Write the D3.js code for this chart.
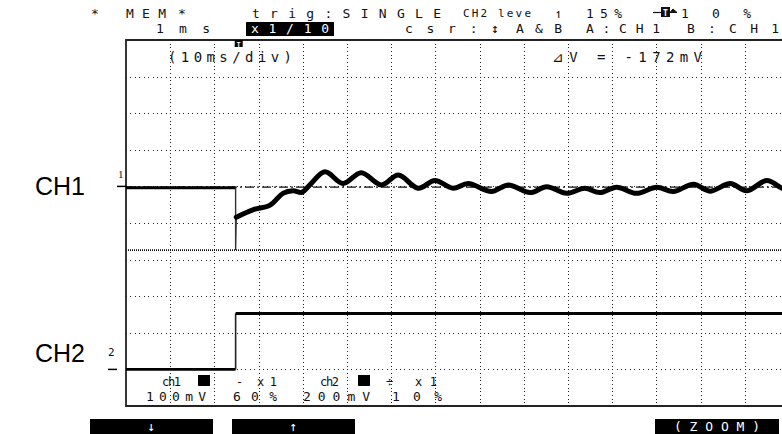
<!DOCTYPE html>
<html>
<head>
<meta charset="utf-8">
<script src="https://cdn.jsdelivr.net/npm/d3@7"></script>
<style>
  html, body { margin: 0; padding: 0; background: #fff; }
  svg { display: block; }
  .lcd { font-family: "DejaVu Sans Mono", "Liberation Mono", monospace; }
</style>
</head>
<body>
<svg id="scope" width="782" height="434"></svg>
<script>
// ---- acquisition settings ----
const timePerDivMs = 10;
const ch1mVPerDiv = 100;
const ch2mVPerDiv = 200;
const triggerMs = 25.5;
const stepMs = 24.8;

// ---- CH1 (100 mV/div) ----
const ch1PreTime = [0, stepMs];
const ch1PreMv   = [-4, -4];
// fast transient at the switching instant
const ch1DropTime = [stepMs, stepMs, 24.95];
const ch1DropMv   = [-4, -174, -84];
// recovery and ringing
const ch1PostTime = [24.95, 28.7, 32.6, 35.5, 37.8, 39.8, 41.6, 45.0, 49.1, 53.2, 57.8, 61.6,
                     66.1, 69.9, 74.0, 77.4, 82.7, 86.5, 91.4, 95.2, 99.7, 103.8, 107.2,
                     111.0, 115.5, 120.1, 123.8, 128.4, 132.1, 136.7, 140.4, 145.0, 148.4, 150];
const ch1PostMv   = [-84, -64, -51, -19, -12, -16, 4, 40, 8, 37, 4, 31,
                     -5, 16, -5, 8, -14, 4, -17, -1, -19, -5, -17,
                     -2, -19, -2, -14, 6, -13, 8, -12, 16, -5, -10];

// ---- CH2 (200 mV/div) ----
const ch2LowTime  = [0, stepMs];
const ch2LowMv    = [0, 0];
const ch2StepTime = [stepMs, stepMs];
const ch2StepMv   = [0, 306];
const ch2HighTime = [stepMs, 150];
const ch2HighMv   = [306, 306];

// ---- cursors (both on CH1) ----
const cursorAmV = -2;
const cursorBmV = -174;

// ---- grid ----
const gridTimes = d3.range(10, 150, 10);          // vertical divisions (ms)
const gridCh1Mv = d3.range(-500, 400, 100);       // horizontal divisions, CH1 units

const svg = d3.select("#scope");

// screen: 15 x 10 divisions, CH1 reference 4 div below top, CH2 reference 1 div above bottom
const x = d3.scaleLinear().domain([0, 150]).range([126, 126 + 15 * 44.2]);
const y1 = d3.scaleLinear().domain([-6 * ch1mVPerDiv, 4 * ch1mVPerDiv]).range([406, 40]);
const y2 = d3.scaleLinear().domain([-1 * ch2mVPerDiv, 9 * ch2mVPerDiv]).range([406, 40]);

const xLeft = x(0), xRight = 782;
const yTop = y1(400), yBot = y1(-600);

// dotted division grid
const grid = svg.append("g").attr("shape-rendering", "crispEdges");
grid.selectAll("line.v").data(gridTimes).join("line")
  .attr("x1", d => Math.round(x(d)) + 0.5).attr("x2", d => Math.round(x(d)) + 0.5)
  .attr("y1", yTop).attr("y2", yBot)
  .attr("stroke", "#222").attr("stroke-width", 1)
  .attr("stroke-dasharray", "1,2.66");
grid.selectAll("line.h").data(gridCh1Mv).join("line")
  .attr("x1", xLeft).attr("x2", xRight)
  .attr("y1", d => Math.round(y1(d)) + 0.5).attr("y2", d => Math.round(y1(d)) + 0.5)
  .attr("stroke", "#222").attr("stroke-width", 1)
  .attr("stroke-dasharray", "1,3.42");

// cursors
svg.append("line")
  .attr("x1", xLeft).attr("x2", xRight)
  .attr("y1", y1(cursorAmV)).attr("y2", y1(cursorAmV))
  .attr("stroke", "#111").attr("stroke-width", 1.2)
  .attr("stroke-dasharray", "9,3,2,3");
svg.append("line")
  .attr("x1", xLeft).attr("x2", xRight)
  .attr("y1", y1(cursorBmV)).attr("y2", y1(cursorBmV))
  .attr("stroke", "#111").attr("stroke-width", 1.6)
  .attr("stroke-dasharray", "1,1");

// frame
svg.append("path")
  .attr("d", `M${xRight},${yTop}H${xLeft}V${yBot}H${xRight}`)
  .attr("fill", "none").attr("stroke", "#222").attr("stroke-width", 1.8);

// traces
const lineOf = (ys, curve) => d3.line().x(d => x(d[0])).y(d => ys(d[1])).curve(curve || d3.curveLinear);
const zip = (a, b) => a.map((v, i) => [v, b[i]]);

svg.append("path").datum(zip(ch1PreTime, ch1PreMv))
  .attr("d", lineOf(y1)).attr("fill", "none").attr("stroke", "#000").attr("stroke-width", 3);
svg.append("path").datum(zip(ch1DropTime, ch1DropMv))
  .attr("d", lineOf(y1)).attr("fill", "none").attr("stroke", "#333").attr("stroke-width", 1.4);
svg.append("path").datum(zip(ch1PostTime, ch1PostMv))
  .attr("d", lineOf(y1, d3.curveCatmullRom.alpha(0.5)))
  .attr("fill", "none").attr("stroke", "#000").attr("stroke-width", 5)
  .attr("stroke-linejoin", "round").attr("stroke-linecap", "round");

svg.append("path").datum(zip(ch2LowTime, ch2LowMv))
  .attr("d", lineOf(y2)).attr("fill", "none").attr("stroke", "#000").attr("stroke-width", 2.6);
svg.append("path").datum(zip(ch2StepTime, ch2StepMv))
  .attr("d", lineOf(y2)).attr("fill", "none").attr("stroke", "#222").attr("stroke-width", 1.6);
svg.append("path").datum(zip(ch2HighTime, ch2HighMv))
  .attr("d", lineOf(y2)).attr("fill", "none").attr("stroke", "#000").attr("stroke-width", 3);

// reference markers at the left edge
svg.append("line").attr("x1", 117).attr("x2", xLeft).attr("y1", y1(0)).attr("y2", y1(0))
  .attr("stroke", "#000").attr("stroke-width", 1.5);
svg.append("text").attr("x", 118).attr("y", y1(0) - 8).text("1")
  .attr("font-family", "Liberation Serif, serif").attr("font-size", 11).attr("fill", "#111");
svg.append("line").attr("x1", 108).attr("x2", 117).attr("y1", y2(0)).attr("y2", y2(0))
  .attr("stroke", "#000").attr("stroke-width", 1.5);
svg.append("text").attr("x", 108).attr("y", y2(0) - 13).text("2")
  .attr("class", "lcd").attr("font-size", 11).attr("fill", "#111");

// trigger position marker
const tx = x(triggerMs);
svg.append("rect").attr("x", tx - 4).attr("y", 40).attr("width", 8).attr("height", 7).attr("fill", "#000");
svg.append("text").attr("x", tx).attr("y", 46.5).attr("text-anchor", "middle").text("T")
  .attr("class", "lcd").attr("font-size", 7).attr("font-weight", "bold").attr("fill", "#fff");

// channel names
svg.append("text").attr("x", 35).attr("y", y1(0) + 9).text("CH1")
  .attr("font-family", "Liberation Sans, Arial, sans-serif").attr("font-size", 25).attr("fill", "#000");
svg.append("text").attr("x", 35).attr("y", y2(0) - 7).text("CH2")
  .attr("font-family", "Liberation Sans, Arial, sans-serif").attr("font-size", 25).attr("fill", "#000");

// status text helper
function label(xp, yp, str, len, opts = {}) {
  const t = svg.append("text")
    .attr("x", xp).attr("y", yp).text(str)
    .attr("class", "lcd")
    .attr("font-size", opts.size || 13)
    .attr("fill", opts.fill || "#111");
  if (len) t.attr("textLength", len).attr("lengthAdjust", "spacing");
  return t;
}

// header line 1
label(91, 17.5, "*", 9);
label(126, 17.5, "MEM", 40);
label(178, 17.5, "*", 8);
label(252, 17.5, "trig:SINGLE", 189);
label(463, 17, "CH2 leve", 68, { size: 11 });
label(555, 17.5, "↿", 8);
label(586, 17.5, "15%", 36);
svg.append("line").attr("x1", 653).attr("x2", 661).attr("y1", 12.5).attr("y2", 12.5).attr("stroke", "#111").attr("stroke-width", 1.2);
svg.append("rect").attr("x", 661).attr("y", 7).attr("width", 9).attr("height", 10).attr("fill", "#111");
svg.append("text").attr("x", 665.5).attr("y", 15.5).attr("text-anchor", "middle").text("T")
  .attr("class", "lcd").attr("font-size", 8).attr("font-weight", "bold").attr("fill", "#fff");
svg.append("path").attr("d", "M670,12.5L677,12.5L673,9Z").attr("fill", "#111").attr("stroke", "#111");
label(681, 17.5, "10%", 70);

// header line 2
label(156, 33, "1ms", 54);
svg.append("rect").attr("x", 246).attr("y", 22).attr("width", 88).attr("height", 14).attr("fill", "#000");
label(251, 33, "x1/10", 78, { fill: "#fff" });
label(405, 33, "csr:↕", 94);
label(516, 33, "A&B", 46);
label(586, 33, "A:CH1", 74);
label(687, 33, "B:CH1", 92);

// in-screen readouts
label(168, 62, "(10ms/div)", 124, { size: 14 });
const dV = cursorBmV - cursorAmV;
label(552, 62, `⊿V = ${dV < 0 ? "-" : "+"}${Math.abs(dV)}mV`, 150, { size: 14 });

// channel settings block
label(162, 386, "ch1", 19, { size: 12 });
svg.append("rect").attr("x", 198).attr("y", 375).attr("width", 12).attr("height", 11).attr("fill", "#000");
label(236, 386, "-", 10, { size: 12 });
label(257, 386, "x 1", 20, { size: 12 });
label(320, 386, "ch2", 19, { size: 12 });
svg.append("rect").attr("x", 358).attr("y", 375).attr("width", 12).attr("height", 11).attr("fill", "#000");
label(386, 386, "÷", 8, { size: 12 });
label(415, 386, "x 1", 22, { size: 12 });

label(146, 401, "100mV", 60, { size: 13 });
label(233, 401, "60%", 44, { size: 13 });
label(303, 401, "200mV", 67, { size: 13 });
label(392, 401, "10%", 50, { size: 13 });

// soft keys
const keys = [
  { x0: 90, x1: 213, text: "↓" },
  { x0: 232, x1: 355, text: "↑" },
  { x0: 655, x1: 779, text: "( Z O O M )" }
];
const kg = svg.append("g").selectAll("g").data(keys).join("g");
kg.append("rect").attr("x", d => d.x0).attr("y", 419).attr("width", d => d.x1 - d.x0).attr("height", 15).attr("fill", "#000");
kg.append("text").attr("x", d => (d.x0 + d.x1) / 2).attr("y", 431).attr("text-anchor", "middle")
  .attr("class", "lcd").attr("font-size", 13).attr("fill", "#fff").text(d => d.text);
</script>
</body>
</html>
